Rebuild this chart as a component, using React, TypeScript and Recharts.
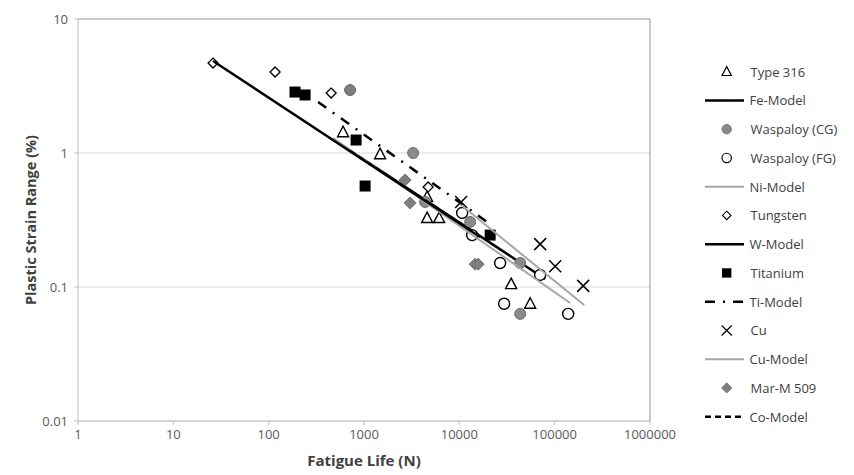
import React from "react";
import {
  ScatterChart,
  Scatter,
  XAxis,
  YAxis,
  CartesianGrid,
  ReferenceLine,
  Label,
} from "recharts";

const xTicks = [1, 10, 100, 1000, 10000, 100000, 1000000];
const yTicks = [0.01, 0.1, 1, 10];

// measured points (fatigue life N, plastic strain range %)
const type316Life = [603, 1475, 4594, 4594, 6138, 34960, 55330];
const type316Strain = [1.43, 0.98, 0.47, 0.327, 0.327, 0.105, 0.075];

const waspCgLife = [715, 3275, 4377, 12980, 26800, 43450, 43450];
const waspCgStrain = [2.95, 1.0, 0.431, 0.306, 0.151, 0.151, 0.063];

const waspFgLife = [10700, 13630, 26800, 70440, 29520, 138600];
const waspFgStrain = [0.357, 0.244, 0.151, 0.123, 0.075, 0.063];

const tungstenLife = [26.1, 116.8, 452, 4707];
const tungstenStrain = [4.69, 4.02, 2.8, 0.558];

const titaniumLife = [189, 241, 826, 1027, 21050];
const titaniumStrain = [2.85, 2.71, 1.25, 0.567, 0.244];

const cuLife = [10440, 70440, 101200, 199100];
const cuStrain = [0.431, 0.209, 0.143, 0.102];

const marLife = [715, 2700, 3045, 14650, 15750];
const marStrain = [2.95, 0.629, 0.424, 0.148, 0.148];

// model lines (end points)
const feModelLife = [561, 79500];
const feModelStrain = [1.167, 0.1147];

const niModelLife = [474, 145400];
const niModelStrain = [1.294, 0.076];

const wModelLife = [26.1, 16530];
const wModelStrain = [4.86, 0.236];

const tiModelLife = [330, 19570];
const tiModelStrain = [2.4, 0.306];

const cuModelLife = [10440, 203900];
const cuModelStrain = [0.409, 0.0734];

const coModelLife = [715, 15750];
const coModelStrain = [1.035, 0.244];

const pts = (life: number[], strain: number[]) =>
  life.map((n, i) => ({ n, s: strain[i] }));

const FONT = "'Open Sans', sans-serif";

const Triangle = ({ cx, cy }: any) => (
  <path
    d={`M${cx},${cy - 6} L${cx + 5.5},${cy + 4.5} L${cx - 5.5},${cy + 4.5} Z`}
    fill="#fff"
    stroke="#000"
    strokeWidth={1.4}
  />
);
const GrayCircle = ({ cx, cy }: any) => (
  <circle cx={cx} cy={cy} r={5.5} fill="#8a8a8a" stroke="#6e6e6e" strokeWidth={1} />
);
const OpenCircle = ({ cx, cy }: any) => (
  <circle cx={cx} cy={cy} r={5.5} fill="#fff" stroke="#000" strokeWidth={1.4} />
);
const OpenDiamond = ({ cx, cy }: any) => (
  <path
    d={`M${cx},${cy - 5} L${cx + 5},${cy} L${cx},${cy + 5} L${cx - 5},${cy} Z`}
    fill="#fff"
    stroke="#000"
    strokeWidth={1.3}
  />
);
const Square = ({ cx, cy }: any) => (
  <rect x={cx - 5.5} y={cy - 5.5} width={11} height={11} fill="#000" />
);
const Cross = ({ cx, cy }: any) => (
  <path
    d={`M${cx - 6},${cy - 6} L${cx + 6},${cy + 6} M${cx + 6},${cy - 6} L${cx - 6},${cy + 6}`}
    stroke="#000"
    strokeWidth={1.5}
  />
);
const GrayDiamond = ({ cx, cy }: any) => (
  <path
    d={`M${cx},${cy - 6} L${cx + 6},${cy} L${cx},${cy + 6} L${cx - 6},${cy} Z`}
    fill="#7f7f7f"
    stroke="#707070"
    strokeWidth={1}
  />
);
const NoMark = () => <g />;

const blackLine = { stroke: "#000", strokeWidth: 2.5 };
const grayLine = { stroke: "#a6a6a6", strokeWidth: 2 };
const tiLine = { stroke: "#000", strokeWidth: 2.5, strokeDasharray: "10 8 2 8" };
const coLine = { stroke: "#000", strokeWidth: 2.5, strokeDasharray: "6 4" };

type LegendItem = {
  name: string;
  marker?: (p: any) => React.ReactElement;
  line?: { stroke: string; strokeWidth: number; strokeDasharray?: string };
};

const legendItems: LegendItem[] = [
  { name: "Type 316", marker: Triangle },
  { name: "Fe-Model", line: blackLine },
  { name: "Waspaloy (CG)", marker: GrayCircle },
  { name: "Waspaloy (FG)", marker: OpenCircle },
  { name: "Ni-Model", line: grayLine },
  { name: "Tungsten", marker: OpenDiamond },
  { name: "W-Model", line: blackLine },
  { name: "Titanium", marker: Square },
  { name: "Ti-Model", line: tiLine },
  { name: "Cu", marker: Cross },
  { name: "Cu-Model", line: grayLine },
  { name: "Mar-M 509", marker: GrayDiamond },
  { name: "Co-Model", line: coLine },
];

function ChartLegend() {
  return (
    <svg
      width={160}
      height={400}
      style={{ position: "absolute", left: 690, top: 50 }}
    >
      {legendItems.map((it, i) => {
        const y = 21.7 + i * 28.75;
        const M = it.marker;
        return (
          <g key={it.name}>
            {M ? (
              <g transform="scale(0.85)" style={{ transformOrigin: `36.7px ${y}px` }}>
                <M cx={36.7} cy={y} />
              </g>
            ) : (
              <line x1={15} x2={54} y1={y} y2={y} {...it.line} />
            )}
            <text
              x={M ? 60.5 : 59.5}
              y={y}
              dominantBaseline="central"
              fontFamily={FONT}
              fontSize={13}
              fill="#404040"
            >
              {it.name}
            </text>
          </g>
        );
      })}
    </svg>
  );
}

export default function App() {
  return (
    <div
      style={{
        position: "absolute",
        left: 0,
        top: 0,
        width: 854,
        height: 475,
        background: "#fff",
      }}
    >
      <ScatterChart
        width={854}
        height={475}
        margin={{ top: 19, right: 204, bottom: 24, left: 0 }}
      >
        <CartesianGrid vertical={false} stroke="#d9d9d9" />
        <XAxis
          dataKey="n"
          type="number"
          scale="log"
          domain={[1, 1000000]}
          ticks={xTicks}
          interval={0}
          height={30}
          tickSize={4}
          tickMargin={5}
          stroke="#bfbfbf"
          tick={{ fill: "#595959", fontSize: 13, fontFamily: FONT }}
          allowDataOverflow
        >
          <Label
            value="Fatigue Life (N)"
            position="bottom"
            offset={4}
            style={{
              fontFamily: FONT,
              fontSize: 15,
              fontWeight: 700,
              fill: "#404040",
            }}
          />
        </XAxis>
        <YAxis
          dataKey="s"
          type="number"
          scale="log"
          domain={[0.01, 10]}
          ticks={yTicks}
          interval={0}
          width={78}
          tickSize={4}
          tickMargin={6}
          stroke="#bfbfbf"
          tick={{ fill: "#595959", fontSize: 13, fontFamily: FONT }}
          allowDataOverflow
        >
          <Label
            content={() => (
              <text
                x={30}
                y={220}
                transform="rotate(-90 30 220)"
                textAnchor="middle"
                dominantBaseline="central"
                fontFamily={FONT}
                fontSize={14.5}
                fontWeight={700}
                fill="#404040"
              >
                Plastic Strain Range (%)
              </text>
            )}
          />
        </YAxis>
        <ReferenceLine y={10} stroke="#a6a6a6" strokeWidth={1.2} />
        <ReferenceLine x={1000000} stroke="#a6a6a6" strokeWidth={1.2} />

        <Scatter name="Type 316" data={pts(type316Life, type316Strain)} shape={Triangle} isAnimationActive={false} />
        <Scatter name="Fe-Model" data={pts(feModelLife, feModelStrain)} line={blackLine} shape={NoMark} isAnimationActive={false} />
        <Scatter name="Waspaloy (CG)" data={pts(waspCgLife, waspCgStrain)} shape={GrayCircle} isAnimationActive={false} />
        <Scatter name="Waspaloy (FG)" data={pts(waspFgLife, waspFgStrain)} shape={OpenCircle} isAnimationActive={false} />
        <Scatter name="Ni-Model" data={pts(niModelLife, niModelStrain)} line={grayLine} shape={NoMark} isAnimationActive={false} />
        <Scatter name="Tungsten" data={pts(tungstenLife, tungstenStrain)} shape={OpenDiamond} isAnimationActive={false} />
        <Scatter name="W-Model" data={pts(wModelLife, wModelStrain)} line={blackLine} shape={NoMark} isAnimationActive={false} />
        <Scatter name="Titanium" data={pts(titaniumLife, titaniumStrain)} shape={Square} isAnimationActive={false} />
        <Scatter name="Ti-Model" data={pts(tiModelLife, tiModelStrain)} line={tiLine} shape={NoMark} isAnimationActive={false} />
        <Scatter name="Cu" data={pts(cuLife, cuStrain)} shape={Cross} isAnimationActive={false} />
        <Scatter name="Cu-Model" data={pts(cuModelLife, cuModelStrain)} line={grayLine} shape={NoMark} isAnimationActive={false} />
        <Scatter name="Mar-M 509" data={pts(marLife, marStrain)} shape={GrayDiamond} isAnimationActive={false} />
        <Scatter name="Co-Model" data={pts(coModelLife, coModelStrain)} line={coLine} shape={NoMark} isAnimationActive={false} />
      </ScatterChart>
      <ChartLegend />
    </div>
  );
}
